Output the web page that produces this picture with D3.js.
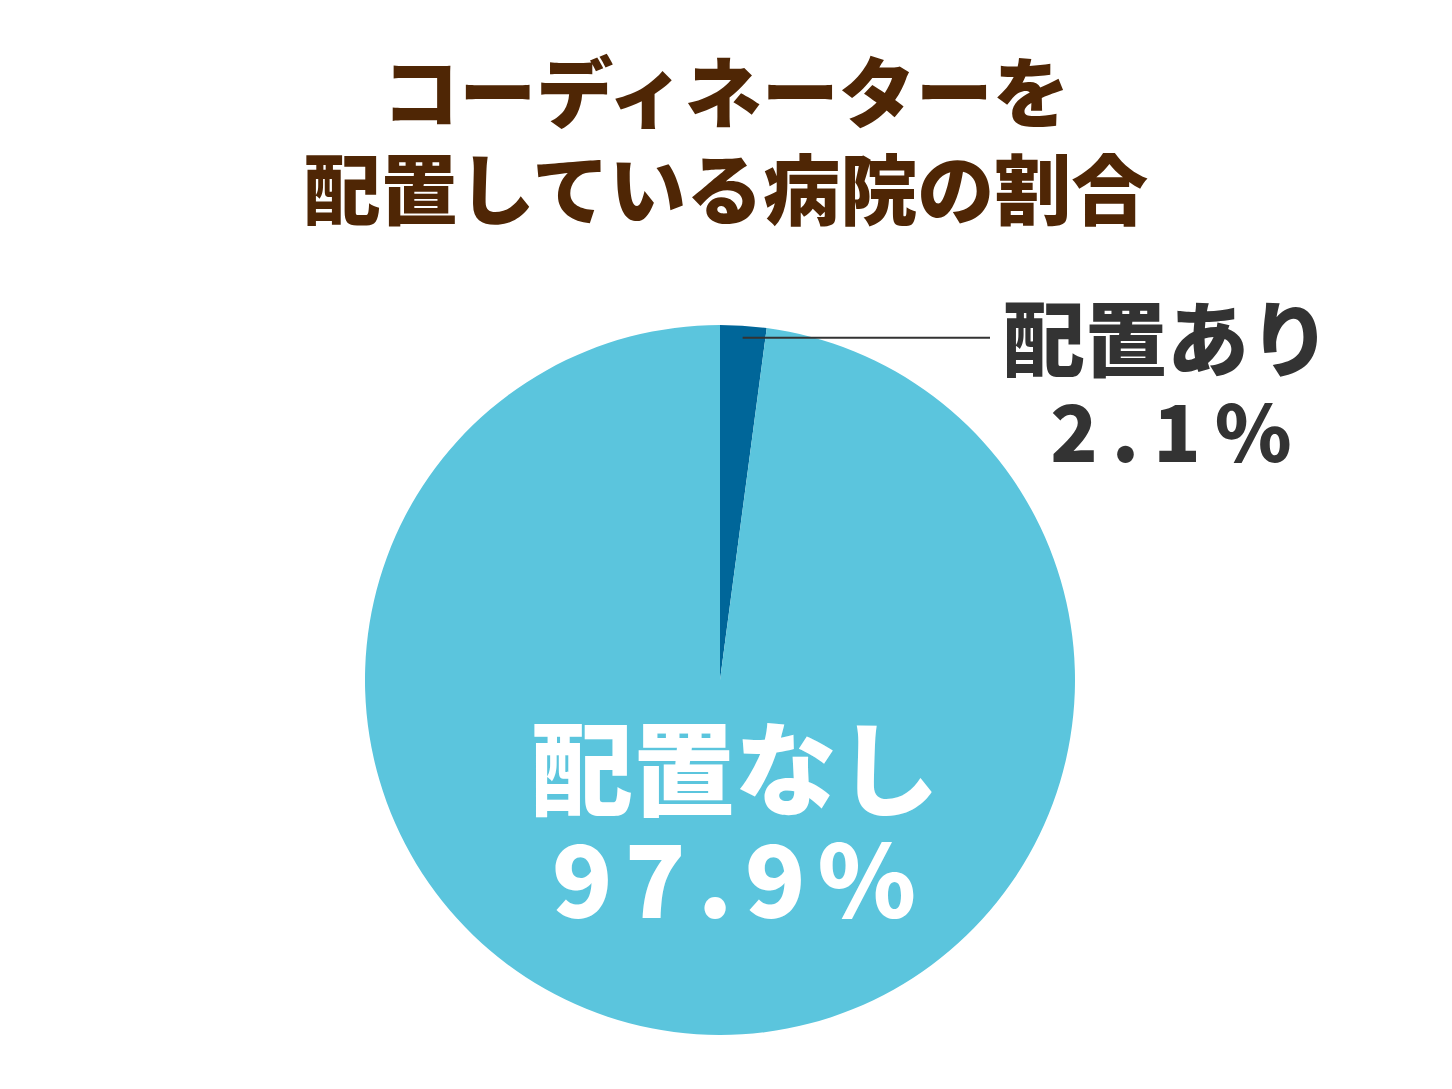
<!DOCTYPE html>
<html><head><meta charset="utf-8">
<script src="https://cdn.jsdelivr.net/npm/d3@7"></script>
<style>body{margin:0;background:#fff}text{font-family:"Noto Sans CJK JP",sans-serif;font-weight:900}</style>
</head><body><svg id="c" width="1452" height="1089"></svg>
<script>
const categories=["配置あり","配置なし"];
const values=[2.1,97.9];
const colors=["#006699","#5bc5dd"];
const titleLines=["コーディネーターを","配置している病院の割合"];
const svg=d3.select("#c");
const cx=720,cy=680,r=355;
svg.selectAll("text.t").data(titleLines).enter().append("text")
 .attr("x",726).attr("y",(d,i)=>122+i*97).attr("text-anchor","middle")
 .attr("font-size",77).attr("fill","#4f2605").text(d=>d);
const pie=d3.pie().sort(null)(values);
const arc=d3.arc().innerRadius(0).outerRadius(r);
const g=svg.append("g").attr("transform",`translate(${cx},${cy})`);
g.selectAll("path").data(pie).enter().append("path").attr("d",arc).attr("fill",(d,i)=>colors[i]);
const a0=(pie[0].startAngle+pie[0].endAngle)/2;
const px=cx+Math.sin(a0)*(r-12), py=cy-Math.cos(a0)*(r-12);
svg.append("line").attr("x1",px).attr("y1",py).attr("x2",990).attr("y2",py).attr("stroke","#333").attr("stroke-width",2);
svg.append("text").attr("x",1167).attr("y",370).attr("text-anchor","middle").attr("font-size",82).attr("fill","#333").text(categories[0]);
svg.append("text").attr("x",1178).attr("y",462).attr("text-anchor","middle").attr("font-size",78).attr("letter-spacing",14).attr("fill","#333").text(values[0]+"%");
svg.append("text").attr("x",735).attr("y",808).attr("text-anchor","middle").attr("font-size",102).attr("fill","#fff").text(categories[1]);
svg.append("text").attr("x",740).attr("y",918).attr("text-anchor","middle").attr("font-size",100).attr("letter-spacing",12).attr("fill","#fff").text(values[1]+"%");
</script></body></html>
